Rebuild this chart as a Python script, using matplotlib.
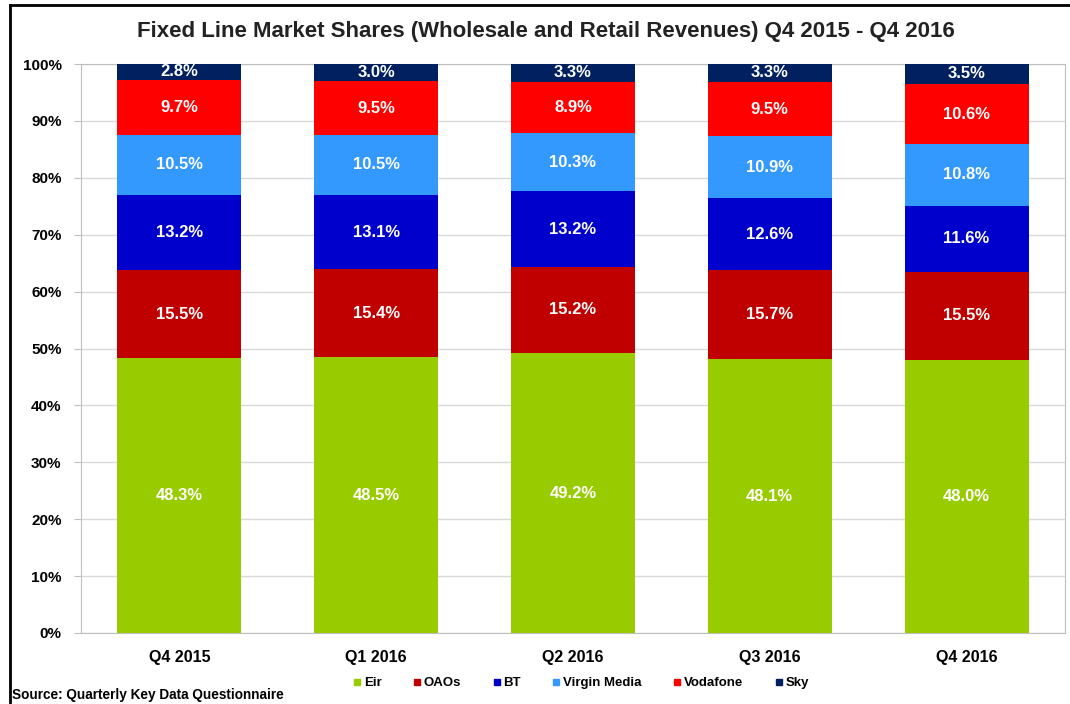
import numpy as np
import matplotlib.pyplot as plt
from matplotlib.lines import Line2D

plt.rcParams['font.family'] = ['Liberation Sans', 'DejaVu Sans']

quarters = ['Q4 2015', 'Q1 2016', 'Q2 2016', 'Q3 2016', 'Q4 2016']
operators = ['Eir', 'OAOs', 'BT', 'Virgin Media', 'Vodafone', 'Sky']
eir = [48.3, 48.5, 49.2, 48.1, 48.0]
oaos = [15.5, 15.4, 15.2, 15.7, 15.5]
bt = [13.2, 13.1, 13.2, 12.6, 11.6]
virgin = [10.5, 10.5, 10.3, 10.9, 10.8]
vodafone = [9.7, 9.5, 8.9, 9.5, 10.6]
sky = [2.8, 3.0, 3.3, 3.3, 3.5]
colors = ['#99CC00', '#C00000', '#0000CC', '#3399FF', '#FF0000', '#002060']


def main():
    series = [eir, oaos, bt, virgin, vodafone, sky]
    fig = plt.figure(figsize=(10.7, 7.04), dpi=100)
    ax = fig.add_axes([81 / 1070, 1 - 633 / 704, 984 / 1070, 569 / 704])

    x = np.arange(len(quarters))
    bottom = np.zeros(len(quarters))
    for vals, c in zip(series, colors):
        vals = np.array(vals)
        ax.bar(x, vals, 0.63, bottom=bottom, color=c, zorder=3)
        for xi, b, v in zip(x, bottom, vals):
            ax.text(xi, b + v / 2, '%.1f%%' % v, ha='center', va='center',
                    color='white', fontsize=12, fontweight='bold', zorder=4)
        bottom += vals

    ax.set_xlim(-0.5, 4.5)
    ax.set_ylim(0, 100)
    ax.set_yticks(np.arange(0, 101, 10))
    ax.set_yticklabels(['%d%%' % t for t in range(0, 101, 10)],
                       fontsize=11, fontweight='bold')
    ax.set_xticks(x)
    ax.set_xticklabels(quarters, fontsize=11.5, fontweight='bold')
    ax.tick_params(axis='x', length=0, pad=12)
    ax.tick_params(axis='y', length=5, color='#BFBFBF', pad=9)
    ax.yaxis.grid(True, color='#D9D9D9', linewidth=1, zorder=0)
    for s in ax.spines.values():
        s.set_color('#BFBFBF')

    fig.text(546 / 1070, 1 - 32 / 704,
             'Fixed Line Market Shares (Wholesale and Retail Revenues) Q4 2015 - Q4 2016',
             ha='center', va='center', fontsize=16, fontweight='bold', color='#222222')

    handles = [Line2D([], [], marker='s', linestyle='none', color=c, markersize=5)
               for c in colors]
    fig.legend(handles, operators, loc='center', ncol=6,
               bbox_to_anchor=(581 / 1070, 1 - 683 / 704), frameon=False,
               prop={'weight': 'bold', 'size': 9.5}, handlelength=0.6,
               handletextpad=0.2, columnspacing=2.4)

    fig.text(12 / 1070, 1 - 695 / 704, 'Source: Quarterly Key Data Questionnaire',
             ha='left', va='center', fontsize=9.8, fontweight='bold')

    # outer chart border (left and top visible)
    fig.add_artist(Line2D([10 / 1070, 10 / 1070], [0, 1 - 5 / 704],
                          transform=fig.transFigure, color='black', linewidth=2))
    fig.add_artist(Line2D([10 / 1070, 1], [1 - 5 / 704, 1 - 5 / 704],
                          transform=fig.transFigure, color='black', linewidth=2))

    fig.savefig('out.png', dpi=100)


if __name__ == "__main__":
    main()
